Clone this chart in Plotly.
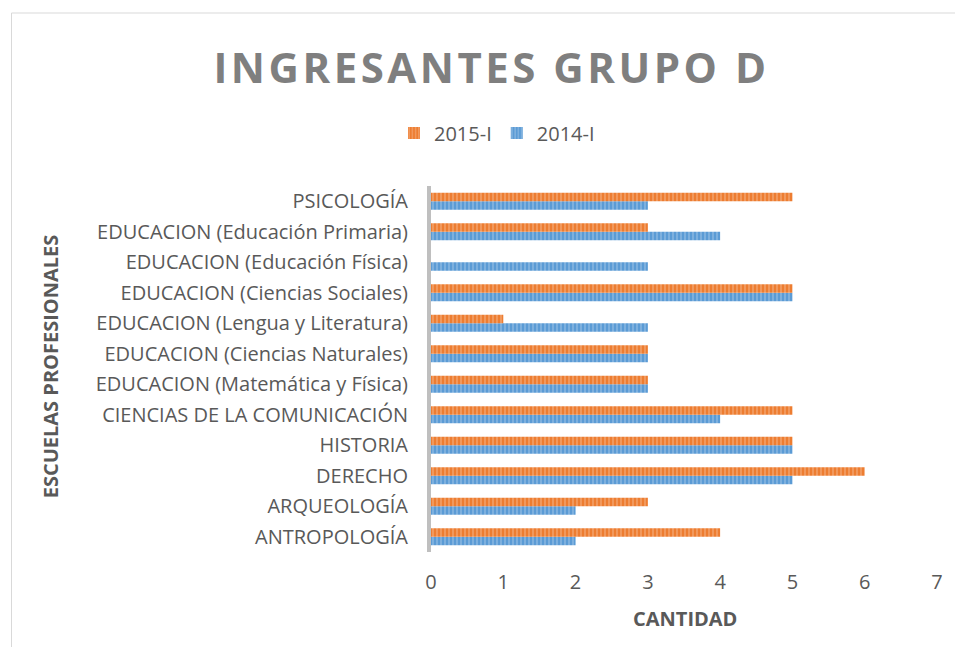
import plotly.graph_objects as go

categories = [
    "ANTROPOLOGÍA",
    "ARQUEOLOGÍA",
    "DERECHO",
    "HISTORIA",
    "CIENCIAS DE LA COMUNICACIÓN",
    "EDUCACION (Matemática y Física)",
    "EDUCACION (Ciencias Naturales)",
    "EDUCACION (Lengua y Literatura)",
    "EDUCACION (Ciencias Sociales)",
    "EDUCACION (Educación Física)",
    "EDUCACION (Educación Primaria)",
    "PSICOLOGÍA",
]
vals_2015 = [4, 3, 6, 5, 5, 3, 3, 1, 5, 0, 3, 5]
vals_2014 = [2, 2, 5, 5, 4, 3, 3, 3, 5, 3, 4, 3]
x_ticks = [0, 1, 2, 3, 4, 5, 6, 7]

# page body has an 8px margin; figure is placed at (8, 8)
OFF = 8
W, H = 963 - 2 * OFF, 655 - 2 * OFF
L = 431 - OFF
T = 186 - OFF
R = W - (940 - OFF)
B = H - (552 - OFF)
pw, ph = W - L - R, H - T - B

FONT = "Open Sans, sans-serif"
TXT = "#595959"
FS = 20

fig = go.Figure()
fig.add_trace(go.Bar(
    y=categories, x=vals_2014, orientation="h", name="2014-I",
    marker=dict(color="#5B9BD5", line=dict(width=0),
                pattern=dict(shape="|", fgcolor="#ffffff", fgopacity=0.35, size=4, solidity=0.3)),
))
fig.add_trace(go.Bar(
    y=categories, x=vals_2015, orientation="h", name="2015-I",
    marker=dict(color="#ED7D31", line=dict(width=0),
                pattern=dict(shape="|", fgcolor="#ffffff", fgopacity=0.35, size=4, solidity=0.3)),
))

fig.update_layout(
    width=W, height=H,
    margin=dict(l=L, r=R, t=T, b=B, pad=0),
    paper_bgcolor="white", plot_bgcolor="white",
    font=dict(family=FONT, color=TXT, size=FS),
    barmode="group", bargap=0.45, bargroupgap=0.0,
    title=dict(text='<b><span style="letter-spacing:3.5px">INGRESANTES GRUPO D</span></b>',
               x=(491.5 - OFF) / W, xanchor="center", xref="container",
               y=1 - (68 - OFF) / H, yanchor="middle", yref="container",
               font=dict(family=FONT, size=42, color="#7F7F7F")),
    legend=dict(orientation="h", x=(497 - OFF) / W, xanchor="center", xref="container",
                y=1 - (133 - OFF) / H, yanchor="middle", yref="container",
                traceorder="reversed",
                font=dict(size=FS, color=TXT), itemwidth=30),
    showlegend=True,
)
fig.update_xaxes(range=[0, 7], tickvals=x_ticks, showgrid=False, zeroline=False,
                 showline=False, ticks="", ticklabelstandoff=16,
                 tickfont=dict(size=FS, color=TXT))
fig.update_yaxes(showgrid=False, zeroline=False, showline=True, linecolor="#BFBFBF", linewidth=4,
                 ticks="", ticklabelstandoff=15, tickfont=dict(size=FS, color=TXT))

fig.add_annotation(text="<b>CANTIDAD</b>", xref="paper", yref="paper",
                   x=(687 - 431) / pw, y=(552 - 618) / ph, xanchor="center", yanchor="middle",
                   showarrow=False, font=dict(size=FS, color=TXT))
fig.add_annotation(text="<b>ESCUELAS PROFESIONALES</b>", xref="paper", yref="paper",
                   x=(48 - 431) / pw, y=(552 - 366) / ph, xanchor="center", yanchor="middle",
                   textangle=-90, showarrow=False, font=dict(size=FS, color=TXT))

fig.add_shape(type="rect", xref="paper", yref="paper",
              x0=(9 - 431) / pw, x1=(980 - 431) / pw,
              y0=(552 - 680) / ph, y1=(552 - 13) / ph,
              line=dict(color="#D9D9D9", width=1), fillcolor="rgba(0,0,0,0)", layer="below")

fig.write_html("out.html")
